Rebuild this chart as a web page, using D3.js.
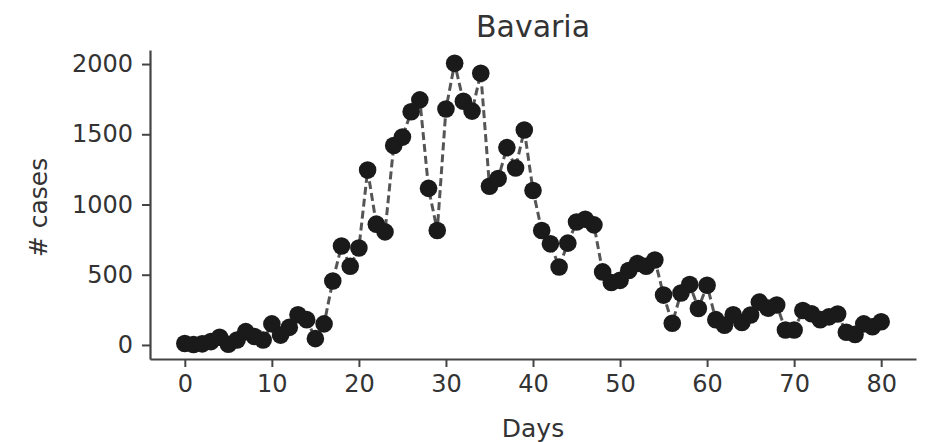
<!DOCTYPE html>
<html>
<head>
<meta charset="utf-8">
<script src="https://cdn.jsdelivr.net/npm/d3@7"></script>
<style>
  html, body { margin: 0; padding: 0; background: #fff; }
  svg { display: block; }
  text { font-family: "DejaVu Sans", sans-serif; fill: #333; }
</style>
</head>
<body>
<svg id="chart" width="933" height="442"></svg>
<script>
// ---- data ----
const title = "Bavaria";
const xLabel = "Days";
const yLabel = "# cases";
const days = d3.range(0, 81);
const cases = [10, 3, 8, 24, 55, 5, 35, 95, 60, 35, 150, 70, 125, 215, 180, 45, 150,
  455, 705, 560, 690, 1245, 860, 805, 1420, 1480, 1660,
  1745, 1115, 815, 1680, 2005, 1735, 1665, 1935, 1130, 1185, 1405, 1260, 1530, 1100,
  815, 720, 555, 725, 875, 895, 855, 520, 445, 460, 530, 580, 560, 605,
  355, 155, 370, 430, 260, 425, 180, 140, 215, 160, 213, 305, 262, 285,
  107, 107, 245, 222, 180, 200, 220, 90, 75, 150, 130, 165];
const xTicks = [0, 10, 20, 30, 40, 50, 60, 70, 80];
const yTicks = [0, 500, 1000, 1500, 2000];

// ---- chart ----
const svg = d3.select("#chart");
const data = days.map((d, i) => ({ day: d, value: cases[i] }));

const x = d3.scaleLinear().domain([-4, 84]).range([150, 916]);
const y = d3.scaleLinear().domain([-100, 2100]).range([359, 50]);

const axisColor = "#444";

// x axis
const gx = svg.append("g")
  .attr("transform", `translate(0,${y(-100)})`)
  .call(d3.axisBottom(x).tickValues(xTicks).tickFormat(d3.format("d"))
    .tickSize(8).tickPadding(8).tickSizeOuter(0));
// y axis
const gy = svg.append("g")
  .attr("transform", `translate(${x(-4)},0)`)
  .call(d3.axisLeft(y).tickValues(yTicks).tickFormat(d3.format("d"))
    .tickSize(8).tickPadding(9).tickSizeOuter(0));

[gx, gy].forEach(g => {
  g.select(".domain").attr("stroke", axisColor).attr("stroke-width", 2.2);
  g.selectAll(".tick line").attr("stroke", axisColor).attr("stroke-width", 2);
  g.selectAll(".tick text")
    .attr("font-family", "DejaVu Sans, sans-serif")
    .attr("font-size", 24)
    .attr("fill", "#333");
});

// line
const line = d3.line().x(d => x(d.day)).y(d => y(d.value));
svg.append("path")
  .datum(data)
  .attr("d", line)
  .attr("fill", "none")
  .attr("stroke", "#555")
  .attr("stroke-width", 3)
  .attr("stroke-dasharray", "8,4");

// markers
svg.append("g").selectAll("circle")
  .data(data)
  .join("circle")
  .attr("cx", d => x(d.day))
  .attr("cy", d => y(d.value))
  .attr("r", 8.8)
  .attr("fill", "#1a1a1a");

// title & labels
svg.append("text")
  .attr("x", x(40)).attr("y", 37)
  .attr("text-anchor", "middle")
  .attr("font-size", 30)
  .text(title);

svg.append("text")
  .attr("x", x(40)).attr("y", 437)
  .attr("text-anchor", "middle")
  .attr("font-size", 25)
  .text(xLabel);

svg.append("text")
  .attr("transform", `translate(47,${y(1000) + 3}) rotate(-90)`)
  .attr("text-anchor", "middle")
  .attr("font-size", 25)
  .text(yLabel);
</script>
</body>
</html>
